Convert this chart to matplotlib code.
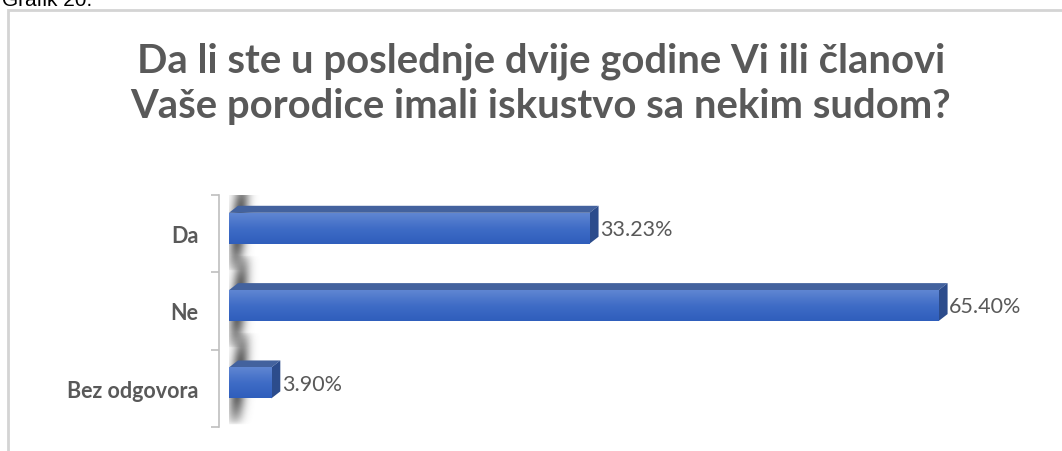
import matplotlib
matplotlib.use("Agg")
from matplotlib import pyplot as plt
from matplotlib.patches import Polygon, Rectangle
import numpy as np

categories = ["Da", "Ne", "Bez odgovora"]
values = [33.23, 65.40, 3.90]
value_labels = ["33.23%", "65.40%", "3.90%"]
title_lines = ["Da li ste u poslednje dvije godine Vi ili članovi",
               "Vaše porodice imali iskustvo sa nekim sudom?"]

W, H = 1062, 452
fig = plt.figure(figsize=(W / 100, H / 100), dpi=100)
fig.patch.set_facecolor("white")

# outer frame of the pasted chart + caption that is cut off at the top
fig.add_artist(Rectangle((8 / W, -0.1), 1.2, (H - 11) / H + 0.1, transform=fig.transFigure,
                         fill=False, edgecolor="#d4d4d4", lw=2.0))
fig.text(2 / W, 1 + 9 / H, "Grafik 20.", fontsize=15, family="Liberation Sans",
         color="black", va="top", ha="left")

for k, (line, base) in enumerate(zip(title_lines, [72, 118])):
    fig.text(541 / W, 1 - base / H, line, ha="center", va="baseline", fontsize=28.8,
             fontweight="bold", family="Lato", color="#595959")

px_per_pct = 10.85
ax_l, ax_r = 229, 1040
ax = fig.add_axes([ax_l / W, (H - 428) / H, (ax_r - ax_l) / W, 232 / H])
ax.patch.set_alpha(0)

for s in ["top", "right", "bottom"]:
    ax.spines[s].set_visible(False)
ax.spines["left"].set_position(("outward", 7))
ax.spines["left"].set_color("#bfbfbf")
ax.spines["left"].set_linewidth(1.2)
ax.set_xticks([])
ax.set_yticks(range(len(categories)))
ax.set_yticklabels(categories, fontsize=15.5, fontweight="bold", family="Lato", color="#595959")
ax.tick_params(axis="y", which="major", length=0, pad=15)
ax.set_yticks([-0.5, 0.5, 1.5, 2.5], minor=True)
ax.tick_params(axis="y", which="minor", length=6, color="#bfbfbf", width=1.2)

dx = 9 / px_per_pct      # depth in x (data units)
dy = 7 / 77.3            # depth in y (data units)
h = 0.40                 # height of the front face
off = -0.07

grad = np.linspace(0, 1, 64).reshape(-1, 1)
cmap = matplotlib.colors.LinearSegmentedColormap.from_list("b", ["#5f86d2", "#3f6cc6", "#2f5ebc"])

for i, v in enumerate(values):
    yc = i + off
    top, bot = yc - h / 2, yc + h / 2
    # soft shadow on the back wall
    y0, y1 = top - 0.45, bot + 0.35
    x0, x1 = -0.3, 2.8
    yy, xx = np.mgrid[y0:y1:120j, x0:x1:80j]
    t = (yy - y0) / (y1 - y0)
    xc = 1.3 - 0.8 * t
    env = np.clip(np.sin(np.pi * t), 0, 1) ** 0.6
    a = np.exp(-((xx - xc) / 0.75) ** 2) * env * 0.95
    a[xx < -0.1] = 0
    rgba = np.zeros(a.shape + (4,))
    rgba[..., :3] = 0.28
    rgba[..., 3] = np.clip(a, 0, 1)
    ax.imshow(rgba, extent=(x0, x1, y1, y0), aspect="auto", zorder=1, interpolation="bilinear")
    # top face
    ax.add_patch(Polygon([(0, top), (dx, top - dy), (v + dx, top - dy), (v, top)],
                         closed=True, facecolor="#43629e", edgecolor="none", zorder=3))
    # side face
    ax.add_patch(Polygon([(v, top), (v + dx, top - dy), (v + dx, bot - dy), (v, bot)],
                         closed=True, facecolor="#2c4c8c", edgecolor="none", zorder=3))
    # front face with gradient
    front = Rectangle((0, top), v, h, facecolor="none", edgecolor="none", zorder=4)
    ax.add_patch(front)
    im = ax.imshow(grad, cmap=cmap, extent=(0, v, bot, top), aspect="auto", zorder=4,
                   interpolation="bilinear")
    im.set_clip_path(front)
    ax.text(v + dx + 0.15, yc + 0.01, value_labels[i], va="center", ha="left",
            fontsize=15.5, family="Lato", color="#595959", zorder=5)

ax.set_xlim(0, (ax_r - ax_l) / px_per_pct)
ax.set_ylim(2.5, -0.5)

fig.savefig("out.png", dpi=100)
